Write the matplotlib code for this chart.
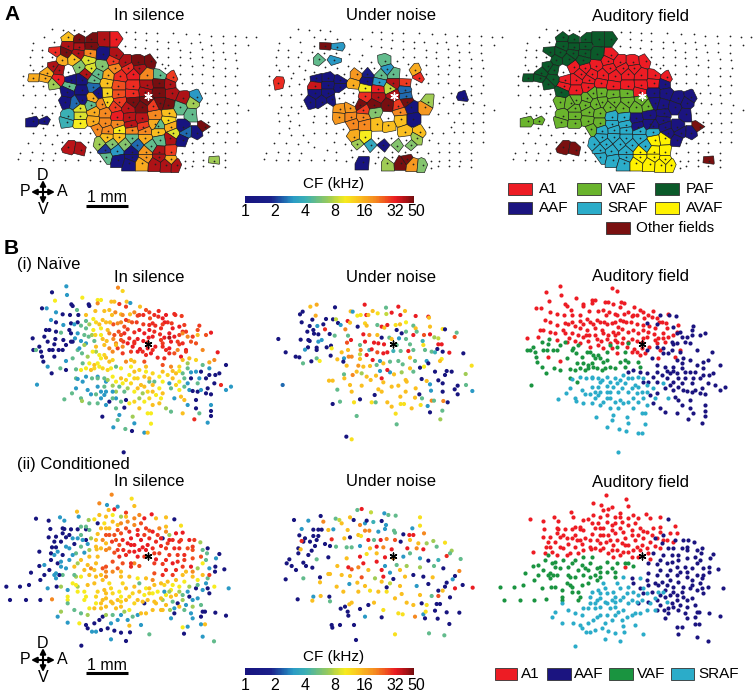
#!/usr/bin/env python3
import numpy as np
import matplotlib
matplotlib.use("Agg")
import matplotlib.pyplot as plt
from matplotlib.collections import PolyCollection
from matplotlib.colors import LinearSegmentedColormap, LogNorm

plt.rcParams["font.family"] = ["Liberation Sans", "DejaVu Sans"]

# Panel A sites, flat x, y, CF (kHz), grouped by auditory field
a_paf = [205,112,14, 238,118,48, 272,118,48, 312,118,40, 348,118,32, 205,138,40, 238,140,40, 272,138,48, 165,157,30, 197,157,48, 235,160,40, 270,160,20, 308,162,1, 185,180,16, 222,178,14, 265,180,9, 160,198,40, 178,210,40, 140,218,16, 100,233,16, 135,235,16, 175,238,32, 160,253,7, 200,275,1]
a_a1 = [348,165,40, 340,182,28, 375,186,40, 415,186,48, 453,183,48, 238,200,6, 272,205,9, 305,197,6, 345,205,20, 385,205,30, 418,205,40, 258,222,40, 293,222,5, 325,225,16, 360,228,30, 400,222,32, 440,225,20, 480,225,5, 518,232,28, 208,257,5, 245,240,1, 282,240,5, 320,250,14, 355,258,26, 400,258,30, 440,255,40, 478,250,48, 245,270,1, 280,260,2.5, 435,275,40, 212,240,1]
a_vaf = [295,280,1, 320,278,12, 355,282,26, 398,280,30, 195,305,1, 245,300,1, 228,310,2.5, 278,295,16, 322,305,12, 358,305,28, 400,305,48, 440,300,48, 272,315,5, 305,312,20, 345,320,28, 385,325,38, 425,322,48, 460,318,28, 240,325,9, 205,348,4, 240,348,9, 282,335,16, 315,340,20, 200,365,4, 240,370,10, 280,362,16, 315,368,20, 290,388,20, 100,362,1, 133,362,1]
a_sraf = [352,350,32, 388,352,38, 352,372,20, 393,375,38, 323,392,20, 358,390,10, 395,390,20, 435,392,20, 475,395,14, 322,412,14, 357,412,14, 395,415,5, 435,415,16, 298,432,7, 335,432,6, 375,432,6, 412,435,2.5, 452,438,5, 315,450,2, 350,452,3, 395,455,1, 317,470,5, 355,480,1, 395,472,1, 388,490,1]
a_aaf = [510,252,40, 478,278,48, 515,280,40, 550,295,40, 590,290,3, 578,308,7, 480,308,48, 505,315,48, 540,322,5, 425,355,38, 465,345,20, 507,340,14, 575,343,5, 430,380,28, 465,372,16, 505,360,12, 548,380,1, 475,378,5, 512,380,16, 520,400,9, 558,398,2.5, 590,400,1, 548,420,1]
a_avaf = [510,415,40, 480,420,5, 437,455,18, 478,455,40, 512,455,28, 437,472,18, 478,470,40, 512,478,16, 425,490,16, 465,492,40, 498,494,40, 530,495,40]
a_other = [205,442,38, 243,449,40, 615,380,48, 642,483,7]

# Sites with no response, flat x, y
a_silent = [155,88, 188,90, 222,90, 252,92, 378,97, 405,97, 438,98, 470,100, 518,100, 558,103, 598,103, 632,108, 668,108, 705,107, 738,112, 768,112,
            405,117, 438,120, 470,122, 505,125, 535,127, 572,130, 600,125, 632,135, 670,130, 705,135, 745,135, 132,112, 163,125, 98,130,
            95,150, 125,150, 375,137, 405,140, 435,145, 470,148, 505,145, 540,150, 570,155, 605,148, 638,155, 670,155, 705,160,
            90,170, 125,172, 155,172, 470,170, 505,170, 540,172, 570,175, 605,170, 640,180, 675,178, 708,180,
            90,195, 125,197, 485,192, 505,195, 540,195, 575,198, 610,195, 640,200, 675,205, 712,205, 205,215,
            70,228, 100,210, 495,205, 540,222, 575,222, 605,222, 640,228, 675,228, 705,228,
            70,255, 100,258, 130,258, 545,250, 575,250, 605,250, 640,255, 675,258, 710,255,
            70,285, 105,285, 135,285, 165,283, 615,278, 645,278, 675,285, 705,280,
            105,320, 135,320, 165,318, 620,310, 650,313, 680,310, 715,315, 745,330,
            95,340, 125,345, 155,340, 605,340, 640,340, 675,340, 710,340,
            130,385, 160,375, 625,365, 650,370, 680,370, 710,365,
            100,400, 135,405, 170,405, 205,400, 240,400, 270,400, 625,395, 650,395, 680,395, 710,395,
            85,430, 120,430, 155,432, 185,425, 265,425, 575,430, 610,428, 640,428, 675,425, 710,425,
            60,460, 95,455, 130,460, 165,458, 270,455, 545,460, 580,455, 610,455, 640,455, 675,458,
            55,478, 90,480, 125,480, 160,480, 195,480, 235,480, 270,480, 300,482, 555,482, 580,482, 610,480, 675,480,
            555,505, 575,498, 610,498, 640,498, 675,500]

a_noise = [225,138,48, 262,140,3, 207,178,5, 252,180,3, 85,250,30, 405,183,5, 412,208,3, 393,225,5, 430,222,5, 352,222,1.5, 320,222,18, 495,210,16, 508,233,30, 350,243,1, 388,247,3, 430,250,40, 467,248,28, 310,255,16,
           345,265,10, 385,267,32, 420,265,8, 465,270,2.5, 468,287,2.5, 198,235,1, 235,235,1, 270,240,1, 195,257,36, 235,255,1, 270,262,1, 195,280,1, 235,280,1, 180,305,1, 215,305,1, 245,298,1,
           345,288,30, 385,290,40, 430,285,40, 470,305,48, 535,305,7, 525,322,18, 330,315,48, 372,315,48, 415,315,48, 445,318,28, 483,322,1, 270,328,18, 300,325,18, 340,330,28, 375,335,6, 450,335,20,
           268,350,18, 302,350,20, 338,352,20, 452,358,14, 490,358,1, 308,370,20, 343,372,20, 382,372,14, 415,375,14, 465,397,14, 510,397,14, 312,410,16, 345,412,10, 500,415,7,
           322,433,7, 362,435,3.5, 400,436,1, 442,437,6, 482,435,6, 338,487,1, 412,490,7, 452,488,48, 470,476,48, 488,492,18, 518,495,6, 640,293,1]

# Panel B (i) Naive sites, flat x, y, CF
naive_a1 = [138,172,1, 181,154,3, 183,180,3, 229,188,10, 147,197,10, 108,220,1, 122,220,3, 196,208,1, 200,213,1, 248,208,1, 250,213,1, 275,195,10, 285,195,10, 275,205,20, 316,200,14, 325,200,14, 340,207,28, 362,200,14, 373,204,3, 336,158,20, 350,168,12, 213,225,5, 150,232,3, 170,238,1, 192,240,1, 217,240,1, 240,240,14, 268,228,14, 295,228,14, 318,240,14, 345,238,14, 372,238,14, 402,215,14, 430,232,28, 458,228,30, 505,237,30, 350,240,20, 395,242,28, 412,240,30, 432,250,26, 457,245,30, 135,255,3, 150,262,1, 172,270,3, 195,265,1, 215,262,1, 240,258,5, 262,252,10, 290,255,14, 300,262,14, 345,262,20, 368,258,20, 392,262,28, 412,268,28, 430,270,30, 448,272,30, 476,262,32, 497,265,28, 120,285,1, 130,285,1, 150,290,1, 165,293,5, 195,295,1, 207,310,3, 240,280,5, 262,285,10, 285,280,10, 305,285,14, 338,290,26, 365,283,28, 385,292,30, 415,295,32, 445,290,30, 490,295,32, 490,308,40, 115,305,1, 80,310,1, 172,315,1, 200,320,1, 225,318,3, 248,305,5, 258,300,7, 285,300,10, 302,318,14, 322,312,20, 345,300,26, 370,310,30, 395,312,32, 412,318,32, 440,305,32, 465,315,28, 495,320,32, 240,325,3, 265,318,5, 295,330,14, 330,325,20, 352,320,28, 380,335,32, 402,342,32, 425,340,32, 448,335,32, 470,325,28, 145,365,1, 180,378,3, 395,350,32, 420,360,30, 475,370,30, 525,365,32, 540,345,32, 535,270,28, 530,290,30,
            310,225,14, 328,232,20, 360,215,28, 385,232,20, 400,240,28, 420,225,26, 445,240,30, 470,250,32, 485,262,30, 360,255,28, 378,262,26, 355,275,26, 322,268,26, 312,262,14, 335,265,20, 280,268,14, 270,262,12, 250,268,7, 225,272,5, 205,268,3, 190,285,1, 215,295,3, 235,300,5, 268,300,12, 310,295,20, 325,300,26, 355,295,30, 400,285,32, 428,308,32, 462,298,30, 475,308,32, 425,322,30, 385,320,30, 365,325,32, 345,315,26, 290,312,14, 270,335,14, 310,340,20, 335,340,28, 350,355,28, 410,350,30, 435,355,32, 480,345,30, 505,305,32, 520,300,28, 500,280,32, 465,280,30, 430,285,32]
naive_aaf = [480,240,32, 508,240,30, 527,243,28, 440,265,30, 470,268,28, 520,275,32, 540,290,28, 580,272,28, 575,285,26, 615,293,32, 560,305,28, 530,295,20, 515,320,28, 490,340,32, 470,335,30, 440,345,30, 455,368,30, 490,355,30, 520,328,28, 570,325,26, 515,345,20, 540,350,28, 635,352,32, 590,345,20, 550,370,14, 570,375,12, 610,382,16, 660,390,1, 470,390,26, 495,395,20, 520,395,12, 545,400,5, 570,410,3, 585,410,1, 610,420,1, 640,415,1, 628,420,1, 510,415,14, 530,415,5, 555,430,1, 580,430,3, 600,430,1, 625,445,1, 645,450,30, 440,415,12, 385,410,14, 400,405,12, 420,410,10, 445,440,5, 470,440,10, 500,430,14, 520,440,10, 545,445,3, 575,445,5, 605,460,1, 660,465,3, 675,455,3, 615,478,1, 575,470,1, 550,465,3, 520,465,10, 495,460,5, 470,475,14, 460,505,14, 495,530,5, 530,535,14, 565,553,30, 605,563,3, 615,510,3, 615,528,1, 615,543,1, 570,520,1, 580,535,5, 535,495,14, 545,510,3, 430,440,5, 450,480,10, 480,520,7,
             530,325,30, 555,320,26, 545,305,20, 575,300,14, 600,300,26, 505,355,26, 530,375,14, 545,385,7, 555,412,3, 520,408,10, 500,408,14, 470,410,14, 485,420,12, 460,425,10, 510,450,12, 535,455,5, 560,468,1, 585,465,3, 600,475,1, 590,390,5, 610,400,3, 625,375,20, 535,430,5, 570,495,1, 525,485,14]
naive_vaf = [82,345,1, 90,345,5, 105,350,1, 108,365,1, 125,320,1, 130,345,1, 148,312,1, 145,328,1, 158,345,1, 180,330,1, 195,320,1, 112,380,1, 125,395,3, 137,415,1, 93,449,3, 163,400,5, 180,405,1, 215,345,5, 228,355,5, 230,385,5, 210,403,5, 225,405,10, 240,400,10, 235,330,7, 270,350,7, 280,360,10, 265,390,14, 275,385,10, 285,370,10, 300,368,14, 320,350,20, 330,330,14, 350,335,20, 320,375,12, 345,400,10, 385,380,14, 375,395,10, 330,395,5, 305,405,12, 290,400,12, 255,405,14, 265,400,12, 415,380,26, 420,395,14, 210,430,5, 230,440,3, 385,325,30, 375,350,28,
             100,335,1, 140,345,1, 170,345,1, 200,370,5, 245,365,7, 260,350,10, 295,360,12, 310,380,14, 250,385,10, 280,395,10, 315,400,10, 360,380,20, 375,375,14, 220,340,3]
naive_sraf = [353,652,1, 175,493,5, 198,475,5, 210,460,3, 225,490,5, 228,498,7, 215,432,3, 240,425,3, 258,430,5, 275,425,3, 295,430,5, 300,440,3, 320,425,10, 345,430,14, 370,420,10, 395,430,12, 415,425,14, 430,430,14, 295,455,5, 320,452,7, 350,445,10, 375,445,12, 405,450,14, 425,470,12, 440,470,14, 460,460,10, 490,445,3, 505,490,3, 245,465,3, 270,478,5, 300,470,3, 330,470,7, 355,470,5, 385,470,10, 410,475,7, 250,505,5, 285,490,3, 310,500,1, 330,490,3, 360,495,1, 385,500,12, 415,500,10, 440,510,14, 465,490,10, 289,545,1, 335,555,5, 322,577,3, 358,582,5, 378,588,1, 415,593,3, 425,593,14, 435,566,10, 385,565,3, 380,545,7, 425,535,10, 435,535,10, 355,518,1, 330,520,5, 275,505,5, 300,510,3, 400,520,14, 340,540,3,
              305,435,7, 330,440,10, 360,435,12, 385,430,12, 320,470,3, 340,455,5, 365,460,7, 395,460,14, 415,455,14, 440,450,14, 275,455,3, 285,470,3, 255,478,3, 345,500,5, 370,505,10, 400,490,7, 430,490,12, 275,430,5, 320,490,5, 295,480,3]
naive_noise = [85,312,1, 107,352,1, 137,365,1, 148,367,1, 184,379,1, 159,385,5, 98,450,2.5, 248,507,1, 289,605,1, 305,613,11, 152,314,1, 175,315,1, 179,318,1, 172,290,1, 190,285,1, 192,296,1, 205,298,1, 215,315,3, 205,320,3, 158,230,1, 150,238,1, 181,215,14, 200,209,16, 197,242,16, 155,262,1, 179,273,1, 202,273,3, 187,254,1, 220,268,1, 228,252,1, 249,253,1, 255,217,1, 258,253,8, 239,297,1, 200,338,1, 200,345,1, 174,337,1, 165,344,3, 230,337,1, 243,332,1, 245,340,10, 242,362,1, 200,370,5, 209,378,10, 264,264,1, 272,270,3, 225,283,30, 254,302,5, 275,352,14, 294,345,14, 262,373,14, 305,365,20, 296,365,20, 282,370,3, 280,380,1, 330,358,8,
               302,229,14, 308,230,3, 344,209,32, 322,242,10, 332,240,11, 349,240,32, 355,240,14, 368,228,14, 383,235,11, 408,218,5, 409,237,8, 425,233,32, 445,215,32, 465,228,14, 451,240,32, 497,243,32, 535,245,32, 537,248,14, 293,258,32, 300,263,14, 323,275,1, 345,265,12, 350,272,14, 382,270,5, 395,275,32, 403,278,14, 412,270,32, 437,270,11, 450,268,14, 468,262,10, 490,272,5, 497,280,14, 540,275,14, 578,282,11, 585,283,1, 620,293,5, 286,283,20, 294,302,5, 303,315,32, 291,323,26, 340,298,32, 358,300,20, 382,300,14, 395,308,1, 418,308,5, 440,285,1, 455,295,1, 468,290,5, 490,300,32, 500,290,5, 522,300,26, 540,298,32, 553,307,7, 565,310,8, 614,306,26, 330,330,5, 345,320,32, 372,323,32, 385,325,32, 402,328,32, 425,312,14, 440,330,5, 447,310,3, 468,312,5, 480,328,5, 518,318,4, 520,330,11, 565,328,32, 575,328,32, 332,345,20, 358,345,4, 365,343,32, 382,352,26, 400,355,32, 412,352,32, 430,348,4, 452,348,5, 475,348,32, 490,345,5, 525,345,5, 545,350,5, 555,352,4, 562,342,1, 578,350,1, 598,353,32, 640,355,1, 330,372,14, 350,360,32, 368,375,32, 380,390,5, 400,385,14, 390,378,3, 420,380,5, 445,378,5, 458,388,5, 480,368,14, 495,378,5, 530,378,3, 535,385,1, 575,372,10, 570,378,14, 290,392,14, 325,392,18, 340,395,14, 360,393,14, 390,408,3, 420,412,3, 455,412,7, 480,400,14, 510,398,1, 522,395,10, 555,410,1, 585,420,1, 590,408,1, 605,410,1, 665,392,11, 647,417,7, 282,418,5, 308,420,20, 320,410,14, 335,415,7, 350,425,14, 378,422,14, 395,430,32, 412,405,32, 432,418,14, 470,440,14, 490,410,5, 515,432,1, 530,438,14, 540,448,3, 565,436,1, 578,445,1, 623,452,1, 648,450,5, 667,468,3, 237,437,14, 248,437,14, 283,430,14, 300,450,14, 335,452,14, 362,435,14, 400,442,14, 425,455,14, 445,452,14, 467,435,14, 497,460,14, 508,478,1, 516,490,5, 543,467,3, 578,470,1, 614,463,1, 623,478,1, 262,464,5, 305,470,14, 330,493,1, 270,500,5, 312,502,11, 365,502,11, 377,502,5, 385,463,14, 374,480,1, 395,470,14, 412,502,14, 451,485,14, 467,470,14, 495,488,14, 425,515,14, 452,507,11, 462,507,11, 485,520,14, 512,510,11, 533,513,3, 545,497,20, 552,497,5, 580,498,20, 593,502,1, 320,543,5, 437,536,11, 440,568,5, 540,532,1, 577,527,5, 571,553,7]

# Panel B (ii) Conditioned sites, flat x, y, CF
cond_a1 = [317,104,20, 377,116,11, 280,130,20, 303,135,3, 335,140,3, 385,138,14, 360,158,28, 308,150,14, 325,148,32, 213,155,14, 218,170,3, 162,172,3, 175,182,3, 90,176,1, 128,182,1, 248,180,7, 265,178,11, 275,190,1, 300,170,14, 320,165,10, 345,170,7, 400,165,20, 415,175,32, 437,163,32, 450,175,14, 480,172,14, 525,197,11, 133,207,1, 175,207,1, 195,208,1, 215,208,1, 240,208,1, 250,210,5, 295,190,11, 310,205,14, 335,195,14, 365,185,20, 385,195,20, 405,190,26, 430,212,26, 460,205,20, 480,200,14, 510,220,32, 530,218,32, 128,232,1, 150,230,1, 165,245,1, 180,232,1, 200,235,3, 225,225,5, 240,240,1, 275,222,14, 300,225,26, 325,225,26, 345,220,26, 370,215,30, 395,225,32, 415,225,28, 440,215,32, 470,235,1, 490,240,32, 520,245,30, 138,262,1, 150,262,1, 180,260,3, 205,252,1, 225,260,5, 245,252,3, 270,260,14, 300,250,14, 318,245,28, 340,255,26, 365,250,32, 385,255,32, 405,240,32, 425,255,32, 450,245,30, 480,265,28, 100,275,1, 135,280,1, 170,285,1, 210,280,5, 235,278,3, 272,268,14, 300,270,20, 325,278,26, 352,270,30, 370,275,30, 395,290,32, 415,290,28, 375,320,30, 340,290,30, 450,298,32, 400,270,32,
           310,225,26, 335,210,26, 360,205,26, 375,235,32, 395,210,30, 420,205,28, 455,225,28, 480,215,20, 500,240,30, 330,240,26, 350,240,30, 375,255,32, 410,262,32, 440,265,30, 465,258,30, 290,240,20, 285,265,14, 310,265,20, 335,270,28, 360,285,30, 385,275,32, 285,205,14, 270,240,14, 255,235,7, 230,240,3, 215,235,3, 190,225,1, 170,220,1, 145,245,1, 155,275,3, 190,265,3, 200,285,3, 250,270,7, 320,185,14, 345,190,20, 385,175,20, 360,170,14, 280,165,14, 240,200,5, 225,200,5, 430,235,30, 445,280,28, 420,270,32, 300,205,14, 170,205,1]
cond_aaf = [465,235,32, 490,225,7, 505,178,1, 525,240,28, 485,250,28, 550,240,32, 565,240,28, 583,247,7, 605,265,1, 603,280,5, 640,282,1, 630,295,3, 655,328,1, 585,290,26, 560,270,26, 520,265,30, 515,285,28, 535,285,30, 490,285,28, 460,280,28, 445,310,28, 470,312,28, 500,310,32, 530,320,28, 555,320,32, 575,325,7, 610,325,3, 628,320,1, 627,335,1, 445,340,26, 470,345,30, 500,345,28, 530,345,14, 560,350,14, 575,360,10, 605,355,5, 610,345,28, 625,380,10, 668,385,3, 590,390,3, 570,385,1, 550,380,7, 520,380,10, 500,375,10, 475,375,12, 445,375,14, 430,400,12, 415,430,1, 445,425,14, 470,420,7, 510,405,14, 530,405,5, 550,410,1, 575,415,3, 605,385,1, 610,400,1, 515,430,1, 540,435,3, 560,440,7, 555,460,3, 590,455,1, 597,455,1, 628,458,1, 660,467,1, 470,450,14, 492,450,7, 495,475,3, 530,502,10, 545,500,3, 585,470,1, 585,493,3, 597,493,14, 534,521,1, 590,530,3, 624,544,5, 520,440,14, 505,460,1, 560,475,3, 400,370,5, 395,355,10,
            505,265,30, 545,265,26, 535,300,28, 560,295,26, 590,310,10, 600,300,5, 510,330,30, 480,330,30, 540,335,14, 560,335,20, 485,365,14, 510,360,14, 535,365,10, 590,345,14, 575,375,5, 600,370,3, 495,390,10, 520,395,7, 545,395,3, 495,410,14, 480,405,10, 530,420,7, 560,420,3, 585,435,5, 480,435,14, 505,445,3, 535,450,5, 465,370,14, 440,360,20, 420,385,10, 455,395,10, 560,260,28, 590,270,5, 515,305,30, 480,300,30]
cond_vaf = [1,380,1, 42,380,1, 69,375,1, 75,338,1, 100,318,1, 115,315,3, 103,360,1, 115,345,1, 135,300,1, 145,285,3, 155,310,1, 165,320,3, 12,420,1, 60,420,1, 103,420,1, 138,418,20, 125,385,3, 152,380,1, 150,355,3, 165,380,7, 185,390,3, 185,410,10, 185,420,10, 210,350,7, 215,380,7, 240,410,10, 235,420,10, 205,320,14, 235,330,14, 255,325,20, 270,350,14, 245,375,14, 265,370,14, 290,325,26, 300,350,20, 300,320,26, 335,325,26, 345,350,14, 275,290,14, 320,305,26, 225,300,14, 190,300,3, 385,310,20, 400,318,26, 375,310,30, 210,375,10, 170,345,5, 250,290,14,
            130,330,1, 145,345,3, 160,345,1, 180,325,3, 205,345,5, 225,350,10, 250,345,14, 265,330,14, 285,345,14, 300,335,20, 320,335,20, 345,335,14, 290,360,14, 215,395,10, 235,395,10, 200,370,10, 165,305,3, 215,310,7, 245,315,14, 270,310,14, 350,310,26, 150,340,3]
cond_sraf = [226,557,1, 155,470,3, 165,455,7, 185,430,5, 205,450,5, 185,488,3, 220,490,10, 240,495,1, 245,505,1, 258,515,3, 270,515,3, 285,510,1, 315,538,3, 360,543,1, 325,512,1, 345,518,1, 372,517,1, 430,523,5, 405,495,3, 370,497,14, 315,490,3, 290,470,1, 265,490,1, 245,465,7, 265,445,14, 290,420,14, 300,440,14, 320,430,14, 345,410,10, 345,440,14, 370,410,12, 370,450,10, 395,420,14, 395,465,3, 420,460,14, 440,450,14, 465,415,14, 475,395,3, 500,425,5, 490,395,7, 440,400,10, 415,405,10, 385,380,14, 350,370,12, 310,370,11, 300,400,14, 320,400,12, 270,410,12, 345,465,3, 320,465,5, 270,430,10, 370,350,14, 420,355,14, 295,390,14,
             275,395,12, 285,430,14, 300,415,14, 315,425,14, 335,420,14, 345,425,12, 360,420,14, 385,430,12, 410,425,14, 425,420,14, 300,465,7, 330,445,14, 355,455,7, 380,470,5, 405,460,14, 285,445,14, 250,445,10, 225,460,5, 315,385,12, 340,395,10, 360,385,14, 400,395,14, 430,385,14, 380,400,12, 450,430,14, 465,450,14, 335,480,3, 365,480,3, 280,480,1, 305,505,1]
cond_noise = [132,180,1, 175,182,3, 212,168,1, 220,185,20, 155,207,3, 190,209,1, 205,209,1, 215,209,1, 235,210,14, 250,208,3, 148,226,1, 165,235,1, 190,228,1, 205,228,1, 160,245,1, 180,245,1, 200,240,1, 155,243,30, 245,238,30, 225,252,1, 240,258,1, 258,260,5, 145,265,1, 152,268,14, 195,258,1, 185,272,1, 145,280,1, 175,285,1, 200,298,5, 235,292,1, 118,298,1, 110,310,1, 125,318,1, 138,330,1, 160,308,1, 168,318,1, 187,323,1, 107,358,1, 160,355,5, 210,352,1, 210,367,14, 235,342,14, 143,418,1, 190,410,3, 187,422,14, 212,408,14, 238,410,1, 240,424,5, 272,446,1, 285,440,1, 298,433,14, 293,455,1, 295,467,1, 345,470,3, 245,495,1, 247,503,1, 270,495,1, 312,495,1, 318,540,1,
              257,176,5, 268,180,8, 300,172,14, 275,190,14, 322,150,5, 335,147,32, 363,157,8, 403,160,3, 415,165,5, 437,167,5, 510,172,11, 510,197,11, 487,205,3, 311,180,1, 330,195,20, 345,190,3, 350,182,1, 370,186,4, 395,183,1, 408,195,3, 432,212,5, 293,210,14, 283,235,14, 300,232,1, 345,212,20, 358,212,20, 385,215,3, 405,207,3, 435,218,5, 460,223,1, 478,225,32, 490,225,32, 522,220,20, 325,225,14, 333,228,11, 355,240,32, 372,240,5, 392,240,32, 410,237,20, 435,240,26, 452,245,1, 480,240,14, 505,250,14, 530,250,7, 550,243,7, 585,248,11, 290,262,5, 305,262,5, 330,258,3, 360,265,14, 380,260,32, 400,262,20, 425,268,32, 472,265,32, 500,265,20, 520,268,32, 560,260,5, 605,272,7, 600,280,5, 290,295,14, 330,290,32, 350,282,11, 380,280,14, 405,292,32, 430,295,20, 460,290,3, 480,280,5, 510,295,3, 535,302,1, 590,288,30, 632,297,5, 565,300,4, 340,310,32, 325,322,20, 380,305,32, 405,318,3, 440,315,5, 470,318,7, 510,322,7, 552,318,5, 580,325,1, 628,333,20, 262,318,14, 295,322,32, 305,328,26, 355,330,14, 395,330,32, 420,338,3, 450,330,14, 465,350,14, 490,345,1, 520,350,1, 548,352,14, 615,348,1, 608,358,3, 240,342,14, 275,345,14, 300,348,14, 335,352,26, 375,355,7, 400,350,32, 430,357,1, 260,380,14, 298,372,3, 322,368,14, 345,378,14, 395,365,14, 420,370,8, 450,378,14, 500,378,3, 535,372,1, 565,392,1, 585,380,1, 590,368,1, 615,385,32, 638,375,1, 668,383,32, 280,395,14, 325,395,14, 360,392,11, 385,395,14, 410,395,11, 410,382,1, 455,402,14, 510,405,14, 545,408,5, 578,392,14, 600,412,1, 565,408,26, 305,428,14, 355,435,1, 372,428,14, 400,450,11, 435,415,14, 470,428,14, 490,435,14, 515,430,1, 530,435,11, 560,432,1, 570,432,1, 330,447,1, 395,472,1, 445,460,11, 458,463,11, 495,470,20, 520,463,3, 525,475,1, 527,455,11, 555,452,1, 563,476,1, 590,457,1, 628,458,1, 598,492,1, 435,523,11, 537,520,5, 583,526,5]

cf_ticks = [1, 2, 4, 8, 16, 32, 50]

cf_nodes = [(1, "#17147f"), (1.8, "#1a1f8a"), (2.4, "#1f62ad"), (3, "#2a9bc6"), (4, "#3bb0b5"), (5, "#62bb8c"), (7, "#9fcc55"),
            (10, "#f7ec1e"), (14, "#fabf1f"), (20, "#f58a20"), (26, "#f0501f"), (32, "#ea1c22"), (40, "#b01216"), (50, "#6e0d0f")]
norm = LogNorm(1, 50)
cf_cmap = LinearSegmentedColormap.from_list("cf", [(float(norm(f)), c) for f, c in cf_nodes])

A1_RED, AAF_NAVY = "#ed1c24", "#1b1480"
A_VAF, PAF, SRAF, AVAF, OTHER = "#6ab42d", "#0b5a2a", "#2bacc9", "#fff200", "#7a1010"
B_VAF = "#1a9440"


def triples(vals):
    return np.array(vals, dtype=float).reshape(-1, 3)


def clip_cell(p, others, half=23):
    # voronoi cell by cutting a box with every neighbour's bisector
    poly = [p + d for d in np.array([(-half, -half), (half, -half), (half, half), (-half, half)], dtype=float)]
    for q in others:
        if np.hypot(*(q - p)) > 3 * half:
            continue
        m, n = (p + q) / 2, q - p
        new = []
        for i in range(len(poly)):
            a, b = poly[i], poly[(i + 1) % len(poly)]
            da, db = np.dot(a - m, n), np.dot(b - m, n)
            if da <= 0:
                new.append(a)
            if da * db < 0:
                new.append(a + (b - a) * da / (da - db))
        poly = new
        if not poly:
            break
    return np.array(poly)


def draw_cells(ax, xy, colors, rest, xoff):
    all_pts = np.vstack([xy, rest])
    polys = []
    for i, p in enumerate(xy):
        others = np.delete(all_pts, i, axis=0)
        polys.append(clip_cell(p, others) / 3 + [xoff, 0])
    ax.add_collection(PolyCollection(polys, facecolors=colors, edgecolors="#1a1a1a", linewidths=0.45, zorder=2))
    ax.scatter(all_pts[:, 0] / 3 + xoff, all_pts[:, 1] / 3, s=1.6, c="#222222", linewidths=0, zorder=3)


def title_row(ax, y):
    for x, t in zip([149, 391, 640], ["In silence", "Under noise", "Auditory field"]):
        ax.text(x, y, t, ha="center", va="center", fontsize=12)


def compass(ax, cx, cy, dy_text):
    ax.annotate("", (cx - 12, cy), (cx + 12, cy), arrowprops=dict(arrowstyle="<|-|>", color="k", lw=1.5, shrinkA=0, shrinkB=0, mutation_scale=8))
    ax.annotate("", (cx, cy - 12), (cx, cy + 12), arrowprops=dict(arrowstyle="<|-|>", color="k", lw=1.5, shrinkA=0, shrinkB=0, mutation_scale=8))
    ax.text(cx, cy - dy_text, "D", ha="center", va="center", fontsize=11.5)
    ax.text(cx, cy + dy_text, "V", ha="center", va="center", fontsize=11.5)
    ax.text(cx - 18, cy, "P", ha="center", va="center", fontsize=11.5)
    ax.text(cx + 19, cy, "A", ha="center", va="center", fontsize=11.5)


def cf_bar(ax, top, bottom, label_y, tick_y):
    f = np.logspace(0, np.log10(50), 200)
    x = 245 + 30 * np.log2(f)
    ax.pcolormesh(x, [top, bottom], f[:-1].reshape(1, -1), cmap=cf_cmap, norm=norm, shading="flat")
    ax.text(334, label_y, "CF (kHz)", ha="center", va="center", fontsize=11)
    for t in cf_ticks:
        ax.text(245 + 30 * np.log2(t) + (2 if t == 50 else 0), tick_y, str(t), ha="center", va="center", fontsize=11.5)


def swatch(ax, x, y, color, label, w=24, h=12, gap=6.5):
    ax.fill([x, x + w, x + w, x], [y, y, y + h, y + h], facecolor=color, edgecolor="#333333", lw=0.6)
    ax.text(x + w + gap, y + h / 2, label, ha="left", va="center", fontsize=11)


fig = plt.figure(figsize=(7.55, 6.95), dpi=100)
ax = fig.add_axes([0, 0, 1, 1])
ax.set_xlim(0, 755)
ax.set_ylim(695, 0)
ax.axis("off")

# panel A
groups = [(a_a1, A1_RED), (a_aaf, AAF_NAVY), (a_vaf, A_VAF), (a_paf, PAF), (a_sraf, SRAF), (a_avaf, AVAF), (a_other, OTHER)]
site_tab = np.vstack([triples(g) for g, _ in groups])
site_xy, site_cf = site_tab[:, :2], site_tab[:, 2]
field_colors = sum([[c] * len(triples(g)) for g, c in groups], [])
silent_xy = np.array(a_silent, dtype=float).reshape(-1, 2)

draw_cells(ax, site_xy, cf_cmap(norm(site_cf)), silent_xy, 0)
draw_cells(ax, site_xy, field_colors, silent_xy, 494.5)

noise_tab = triples(a_noise)
noise_xy = noise_tab[:, :2] + [12, 0]
all_a = np.vstack([site_xy, silent_xy])
keep = [i for i, p in enumerate(all_a) if np.min(np.hypot(*(noise_xy - p).T)) > 20]
draw_cells(ax, noise_xy, cf_cmap(norm(noise_tab[:, 2])), all_a[keep], 246)

for x in [147.7, 393.5, 642]:
    ax.scatter([x], [96], marker=(6, 2, 0), s=28, c="white", linewidths=1.0, zorder=5)

ax.text(4, 14, "A", fontsize=15, fontweight="bold", ha="left", va="center")
title_row(ax, 16)
compass(ax, 43, 192, 17)
ax.plot([86, 128], [205.5, 205.5], color="k", lw=2.2, solid_capstyle="butt")
ax.text(107, 197, "1 mm", ha="center", va="center", fontsize=11.5)
cf_bar(ax, 196, 202.5, 184, 212)
swatch(ax, 508, 183, A1_RED, "A1")
swatch(ax, 577, 183, A_VAF, "VAF")
swatch(ax, 655, 183, PAF, "PAF")
swatch(ax, 508, 202, AAF_NAVY, "AAF")
swatch(ax, 577, 202, SRAF, "SRAF")
swatch(ax, 655, 202, AVAF, "AVAF")
swatch(ax, 606, 222, OTHER, "Other fields")

# panel B
for sets, noise, ybase, star_y in [((naive_a1, naive_aaf, naive_vaf, naive_sraf), naive_noise, 235, 344),
                                   ((cond_a1, cond_aaf, cond_vaf, cond_sraf), cond_noise, 460, 555.5)]:
    colors = [A1_RED, AAF_NAVY, B_VAF, SRAF]
    tabs = [triples(s) for s in sets]
    tab = np.vstack(tabs)
    ax.scatter(tab[:, 0] / 3 + 6, tab[:, 1] / 3 + ybase, s=9, c=tab[:, 2], cmap=cf_cmap, norm=norm, linewidths=0, zorder=2)
    for t, c in zip(tabs, colors):
        ax.scatter(t[:, 0] / 3 + 500, t[:, 1] / 3 + ybase, s=9, c=c, linewidths=0, zorder=2)
    n = triples(noise)
    ax.scatter(n[:, 0] / 3 + 250, n[:, 1] / 3 + ybase, s=9, c=n[:, 2], cmap=cf_cmap, norm=norm, linewidths=0, zorder=2)
    for x in [147.7, 393.3, 641.7]:
        ax.scatter([x], [star_y], marker=(6, 2, 0), s=24, c="k", linewidths=1.0, zorder=5)

ax.text(4, 249, "B", fontsize=15, fontweight="bold", ha="left", va="center")
ax.text(17, 265, "(i) Naïve", ha="left", va="center", fontsize=12)
ax.text(17, 465, "(ii) Conditioned", ha="left", va="center", fontsize=12)
title_row(ax, 277)
title_row(ax, 482)
compass(ax, 43, 660, 17)
ax.plot([86, 128], [672.5, 672.5], color="k", lw=2.2, solid_capstyle="butt")
ax.text(107, 665, "1 mm", ha="center", va="center", fontsize=11.5)
cf_bar(ax, 668, 675, 657, 686)
swatch(ax, 495, 668, A1_RED, "A1", w=22, gap=4)
swatch(ax, 547, 668, AAF_NAVY, "AAF", w=24, gap=3)
swatch(ax, 609, 668, B_VAF, "VAF", w=24, gap=4)
swatch(ax, 671, 668, SRAF, "SRAF", w=23, gap=4)

fig.savefig("out.png", dpi=100)
